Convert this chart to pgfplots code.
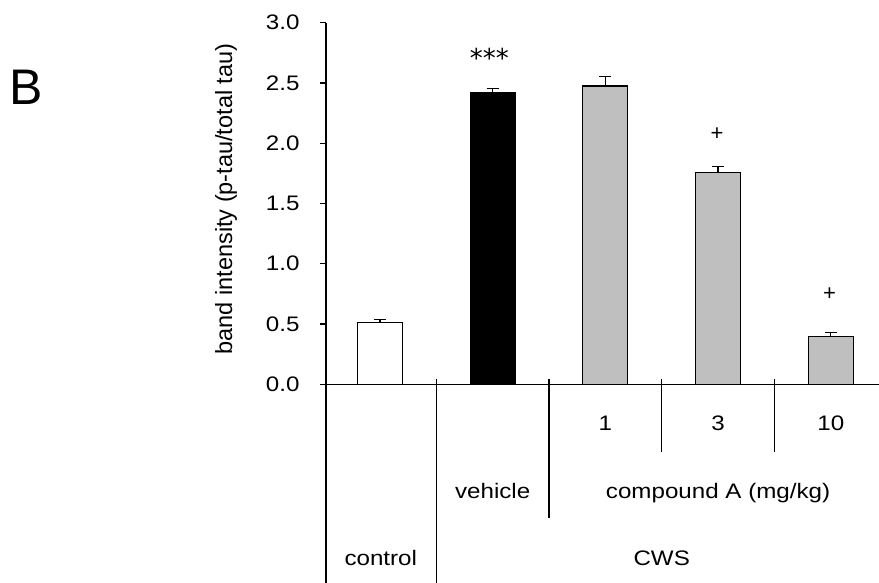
\documentclass[border=0pt]{standalone}
\usepackage{pgfplots}
\pgfplotsset{compat=1.18}
\usepackage{fontspec}
\setmainfont[FakeStretch=1.15]{Liberation Sans}
\newfontfamily\plainsans{Liberation Sans}
\newfontfamily\dejavu{DejaVu Sans}
\definecolor{bargray}{RGB}{191,191,191}
\pgfplotsset{errstyle/.style={
    error bars/y dir=plus, error bars/y explicit,
    error bars/error bar style={line width=1.2pt, black},
    error bars/error mark options={rotate=90, mark size=6pt, line width=1.2pt, black}}}
\begin{document}
\begin{tikzpicture}[font=\fontsize{21}{25}\selectfont]
\begin{axis}[
  scale only axis, width=553pt, height=361.6pt,
  at={(0,0)}, anchor=south west,
  xmin=-0.479, xmax=4.428, ymin=0, ymax=3,
  axis lines*=left,
  axis line style={line width=1.2pt},
  ytick={0,0.5,1,1.5,2,2.5,3},
  /pgf/number format/fixed,
  /pgf/number format/fixed zerofill,
  /pgf/number format/precision=1,
  /pgf/number format/assume math mode=true,
  tick align=outside, major tick length=6pt,
  tick style={black, line width=1.2pt},
  xtick={2,3,4}, xticklabels={1,3,10},
  x tick style={draw=none},
  xticklabel style={anchor=base, yshift=-40pt},
  yticklabel style={anchor=east, xshift=-17pt},
  ylabel={band intensity (p-tau/total tau)},
  ylabel style={at={(rel axis cs:-0.1808,0.5125)}, anchor=center, font=\plainsans\fontsize{23.5}{28}\selectfont},
  ybar, bar width=45pt,
  clip=false,
]
\addplot[fill=white, draw=black, line width=1.2pt, bar shift=0pt, errstyle] coordinates {(0,0.515) +- (0,0.02)};
\addplot[fill=black, draw=black, line width=1.2pt, bar shift=0pt, errstyle] coordinates {(1,2.42) +- (0,0.035)};
\addplot[fill=bargray, draw=black, line width=1.2pt, bar shift=0pt, errstyle] coordinates {(2,2.475) +- (0,0.08) (3,1.76) +- (0,0.05) (4,0.395) +- (0,0.035)};

\node[font=\dejavu\fontsize{26}{30}\selectfont, anchor=base] at (axis cs:0.97,2.63) {***};
\node[font=\plainsans\fontsize{22}{26}\selectfont, anchor=base] at (axis cs:2.99,2.022) {+};
\node[font=\plainsans\fontsize{22}{26}\selectfont, anchor=base] at (axis cs:3.99,0.698) {+};

\draw[line width=1.2pt] (axis cs:-0.479,0) -- (axis cs:-0.479,-1.649);
\draw[line width=1.2pt] (axis cs:0.503,0.044) -- (axis cs:0.503,-1.649);
\draw[line width=1.2pt] (axis cs:1.5,0.044) -- (axis cs:1.5,-1.112);
\draw[line width=1.2pt] (axis cs:2.5,0.044) -- (axis cs:2.5,-0.562);
\draw[line width=1.2pt] (axis cs:3.5,0.044) -- (axis cs:3.5,-0.562);

\node[anchor=base] at (axis cs:1.0,-0.946) {vehicle};
\node[anchor=base] at (axis cs:3.0,-0.946) {compound A (mg/kg)};
\node[anchor=base] at (axis cs:0.007,-1.507) {control};
\node[anchor=base] at (axis cs:2.5,-1.5) {CWS};

\node[font=\plainsans\fontsize{50}{60}\selectfont, anchor=base west, inner sep=0pt] at (rel axis cs:-0.5727,0.7724) {B};
\end{axis}
\pgfresetboundingbox
\useasboundingbox (-326pt,-198.7pt) rectangle (553pt,384.3pt);
\end{tikzpicture}
\end{document}
